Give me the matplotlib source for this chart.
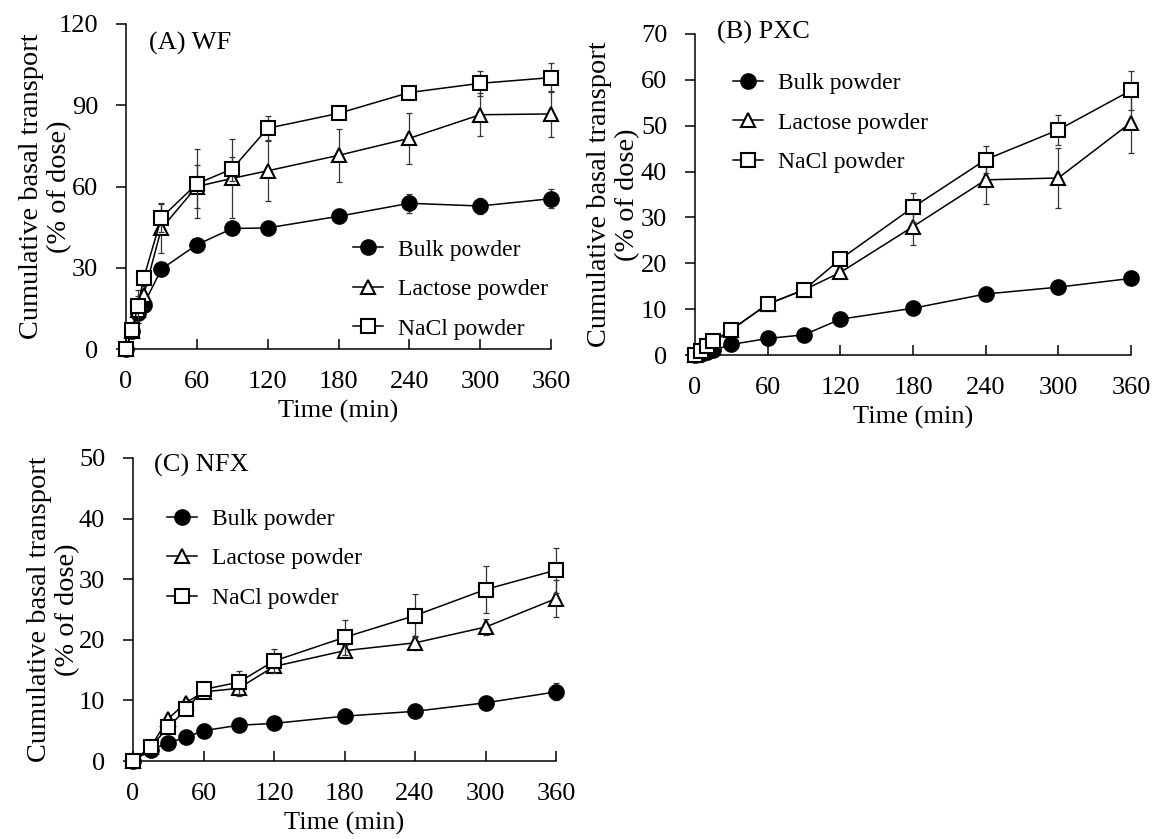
import numpy as np
import matplotlib
matplotlib.use("Agg")
import matplotlib.pyplot as plt

plt.rcParams['font.family'] = ['Liberation Serif', 'DejaVu Serif']
plt.rcParams['font.size'] = 19

W, H = 1154, 839

# (A) WF
t_a = [0, 5, 10, 15, 30, 60, 90, 120, 180, 240, 300, 360]
wf_bulk = [0, 6.5, 13.3, 16.4, 29.5, 38.5, 44.5, 44.7, 49.0, 53.8, 52.8, 55.5]
wf_bulk_err = [0, 1.0, 1.5, 1.5, 1.5, 1.5, 1.5, 1.5, 1.5, 3.5, 3.0, 3.4]
wf_lac = [0, 6.8, 14.5, 20.0, 44.5, 60.0, 63.0, 65.8, 71.5, 77.8, 86.5, 86.8]
wf_lac_err = [0, 1.5, 5.0, 5.0, 9.0, 8.0, 14.5, 11.3, 9.8, 9.5, 8.0, 8.5]
wf_nacl = [0, 7.1, 15.7, 26.2, 48.5, 61.0, 66.5, 81.5, 87.0, 94.7, 98.1, 100.2]
wf_nacl_err = [0, 1.0, 6.0, 3.0, 5.3, 12.7, 4.3, 4.6, 1.0, 1.0, 4.6, 5.3]

# (B) PXC
t_b = [0, 5, 10, 15, 30, 60, 90, 120, 180, 240, 300, 360]
pxc_bulk = [0, 0.3, 0.7, 1.0, 2.3, 3.6, 4.4, 7.8, 10.2, 13.3, 14.8, 16.7]
pxc_bulk_err = [0, 0.1, 0.2, 0.2, 0.3, 0.4, 0.5, 0.6, 0.6, 0.8, 0.8, 0.9]
pxc_lac = [0, 0.7, 1.8, 2.8, 5.5, 11.1, 14.2, 18.0, 28.0, 38.2, 38.6, 50.7]
pxc_lac_err = [0, 0.2, 0.3, 0.4, 1.0, 0.8, 0.8, 1.0, 4.0, 5.2, 6.6, 6.7]
pxc_nacl = [0, 0.8, 2.0, 3.0, 5.5, 11.1, 14.2, 20.9, 32.2, 42.6, 49.1, 57.7]
pxc_nacl_err = [0, 0.2, 0.3, 0.4, 0.8, 0.8, 0.8, 1.0, 3.1, 3.0, 3.3, 4.3]

# (C) NFX
t_c = [0, 15, 30, 45, 60, 90, 120, 180, 240, 300, 360]
nfx_bulk = [0, 1.8, 3.0, 3.9, 5.0, 5.9, 6.2, 7.4, 8.2, 9.6, 11.4]
nfx_bulk_err = [0, 0.2, 0.3, 0.3, 0.4, 0.5, 0.5, 0.5, 0.6, 0.8, 1.4]
nfx_lac = [0, 2.3, 7.0, 9.6, 11.4, 12.0, 15.6, 18.2, 19.5, 22.1, 26.8]
nfx_lac_err = [0, 0.3, 0.5, 0.6, 0.7, 1.3, 0.8, 0.9, 1.2, 1.3, 3.0]
nfx_nacl = [0, 2.3, 5.6, 8.5, 11.8, 13.0, 16.5, 20.4, 24.0, 28.3, 31.5]
nfx_nacl_err = [0, 0.3, 0.5, 0.6, 0.8, 1.9, 1.9, 2.9, 3.6, 3.8, 3.7]

labels = ["Bulk powder", "Lactose powder", "NaCl powder"]
markers = ["o", "^", "s"]
faces = ["black", "white", "white"]
msizes = [10.5, 10, 10]


def make_axes(fig, left, right, top, bottom):
    return fig.add_axes([left / W, 1 - bottom / H, (right - left) / W, (bottom - top) / H])


def draw_panel(ax, t, series, errs, ymax, ystep, title, title_xy, leg_anchor, ylab_x):
    for n, (y, e) in enumerate(zip(series, errs)):
        ax.errorbar(t, y, yerr=e, fmt="none", ecolor="#333333", elinewidth=0.9,
                     capsize=2.5, capthick=0.9, zorder=2 + n, clip_on=False)
        ax.plot(t, y, color="black", lw=1.1, marker=markers[n], ms=msizes[n],
                mfc=faces[n], mec="black", mew=1.5, label=labels[n],
                zorder=3 + n, clip_on=False)
    ax.set_xlim(0, 360)
    ax.set_ylim(0, ymax)
    ax.set_xticks(np.arange(0, 361, 60))
    ax.set_yticks(np.arange(0, ymax + 1, ystep))
    for s in ["top", "right"]:
        ax.spines[s].set_visible(False)
    for s in ["left", "bottom"]:
        ax.spines[s].set_linewidth(1.1)
    ax.tick_params(axis="x", direction="in", length=7, width=1.1, pad=16)
    ax.tick_params(axis="y", direction="out", length=7, width=1.1, pad=13)
    ax.set_xlabel("Time (min)", labelpad=5)
    ax.set_ylabel("Cumulative basal transport\n(% of dose)", linespacing=1.14,
                  fontsize=20.4)
    ax.yaxis.set_label_coords(ylab_x, 0.5)
    ax.text(title_xy[0], title_xy[1], title, transform=ax.transAxes,
            ha="left", va="center")
    ax.legend(loc="upper left", bbox_to_anchor=leg_anchor, frameon=False,
              handlelength=1.27, handletextpad=0.63, labelspacing=0.76,
              borderpad=0, borderaxespad=0, fontsize=17)


fig = plt.figure(figsize=(W / 100, H / 100), dpi=100)

ax_a = make_axes(fig, 126, 551, 24, 349)
draw_panel(ax_a, t_a, [wf_bulk, wf_lac, wf_nacl],
           [wf_bulk_err, wf_lac_err, wf_nacl_err], 120, 30,
           "(A) WF", (0.055, 0.94), (0.535, 0.338), -0.127)

ax_b = make_axes(fig, 695, 1131, 34, 355)
draw_panel(ax_b, t_b, [pxc_bulk, pxc_lac, pxc_nacl],
           [pxc_bulk_err, pxc_lac_err, pxc_nacl_err], 70, 10,
           "(B) PXC", (0.05, 1.005), (0.088, 0.880), -0.126)

ax_c = make_axes(fig, 133, 556, 458, 761)
draw_panel(ax_c, t_c, [nfx_bulk, nfx_lac, nfx_nacl],
           [nfx_bulk_err, nfx_lac_err, nfx_nacl_err], 50, 10,
           "(C) NFX", (0.05, 0.975), (0.08, 0.834), -0.125)

fig.savefig("out.png", dpi=100)
